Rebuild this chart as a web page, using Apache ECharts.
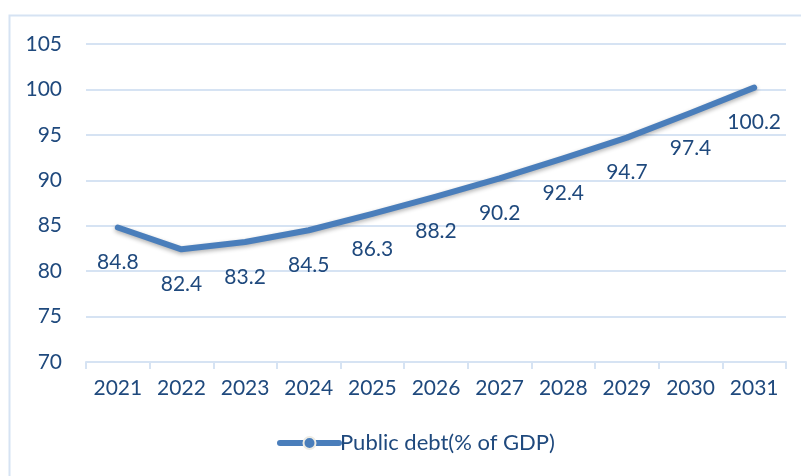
<!DOCTYPE html>
<html>
<head>
<meta charset="utf-8">
<script src="https://cdn.jsdelivr.net/npm/echarts@6/dist/echarts.min.js"></script>
<style>
  html, body { margin: 0; padding: 0; background: #ffffff; }
  #chart { width: 801px; height: 476px; }
</style>
</head>
<body>
<div id="chart"></div>
<script>
// Public debt projection, % of GDP
const years = ['2021', '2022', '2023', '2024', '2025', '2026', '2027', '2028', '2029', '2030', '2031'];
const debtValues = [84.8, 82.4, 83.2, 84.5, 86.3, 88.2, 90.2, 92.4, 94.7, 97.4, 100.2];
const seriesName = 'Public debt(% of GDP)';
const yMin = 70, yMax = 105, yStep = 5;

const textColor = '#1f497d';
const lineColor = '#4a7ebb';
const gridColor = '#d6e3f3';
const fontFamily = 'Lato, "Open Sans", sans-serif';

const chart = echarts.init(document.getElementById('chart'), null, { renderer: 'canvas' });

chart.setOption({
  backgroundColor: '#ffffff',
  animation: false,
  textStyle: { fontFamily: fontFamily },
  graphic: [{
    type: 'rect',
    shape: { x: 9.5, y: 15.5, width: 820, height: 480 },
    style: { fill: 'none', stroke: gridColor, lineWidth: 2 },
    silent: true,
    z: -1
  }],
  grid: { left: 86, right: 15, top: 44, bottom: 114 },
  legend: {
    bottom: 17,
    left: 272,
    itemWidth: 59,
    itemHeight: 15,
    itemGap: 10,
    data: [seriesName],
    textStyle: { color: textColor, fontSize: 22, fontFamily: fontFamily, padding: [0, 0, 0, -4] },
    lineStyle: { width: 6, color: lineColor },
    itemStyle: { color: lineColor, borderColor: '#ecebe4', borderWidth: 2, opacity: 1 }
  },
  xAxis: {
    type: 'category',
    data: years,
    boundaryGap: true,
    axisLine: { show: true, lineStyle: { color: gridColor, width: 2 } },
    axisTick: { show: true, length: 7, lineStyle: { color: gridColor, width: 2 } },
    axisLabel: { color: textColor, fontSize: 21, margin: 16, fontFamily: fontFamily },
    splitLine: { show: false }
  },
  yAxis: {
    type: 'value',
    min: yMin,
    max: yMax,
    interval: yStep,
    axisLine: { show: false },
    axisTick: { show: false },
    axisLabel: { color: textColor, fontSize: 21, margin: 24, fontFamily: fontFamily },
    splitLine: { lineStyle: { color: gridColor, width: 2 } }
  },
  series: [{
    name: seriesName,
    type: 'line',
    data: debtValues,
    smooth: false,
    symbol: 'circle',
    symbolSize: 1,
    showSymbol: true,
    itemStyle: { color: lineColor, opacity: 0 },
    lineStyle: {
      color: lineColor,
      width: 6,
      cap: 'round',
      join: 'round',
      shadowColor: 'rgba(0,0,0,0.3)',
      shadowBlur: 4,
      shadowOffsetY: 2
    },
    label: {
      show: true,
      position: 'bottom',
      distance: 24,
      color: textColor,
      fontSize: 21,
      fontFamily: fontFamily,
      opacity: 1
    }
  }]
});
</script>
</body>
</html>
